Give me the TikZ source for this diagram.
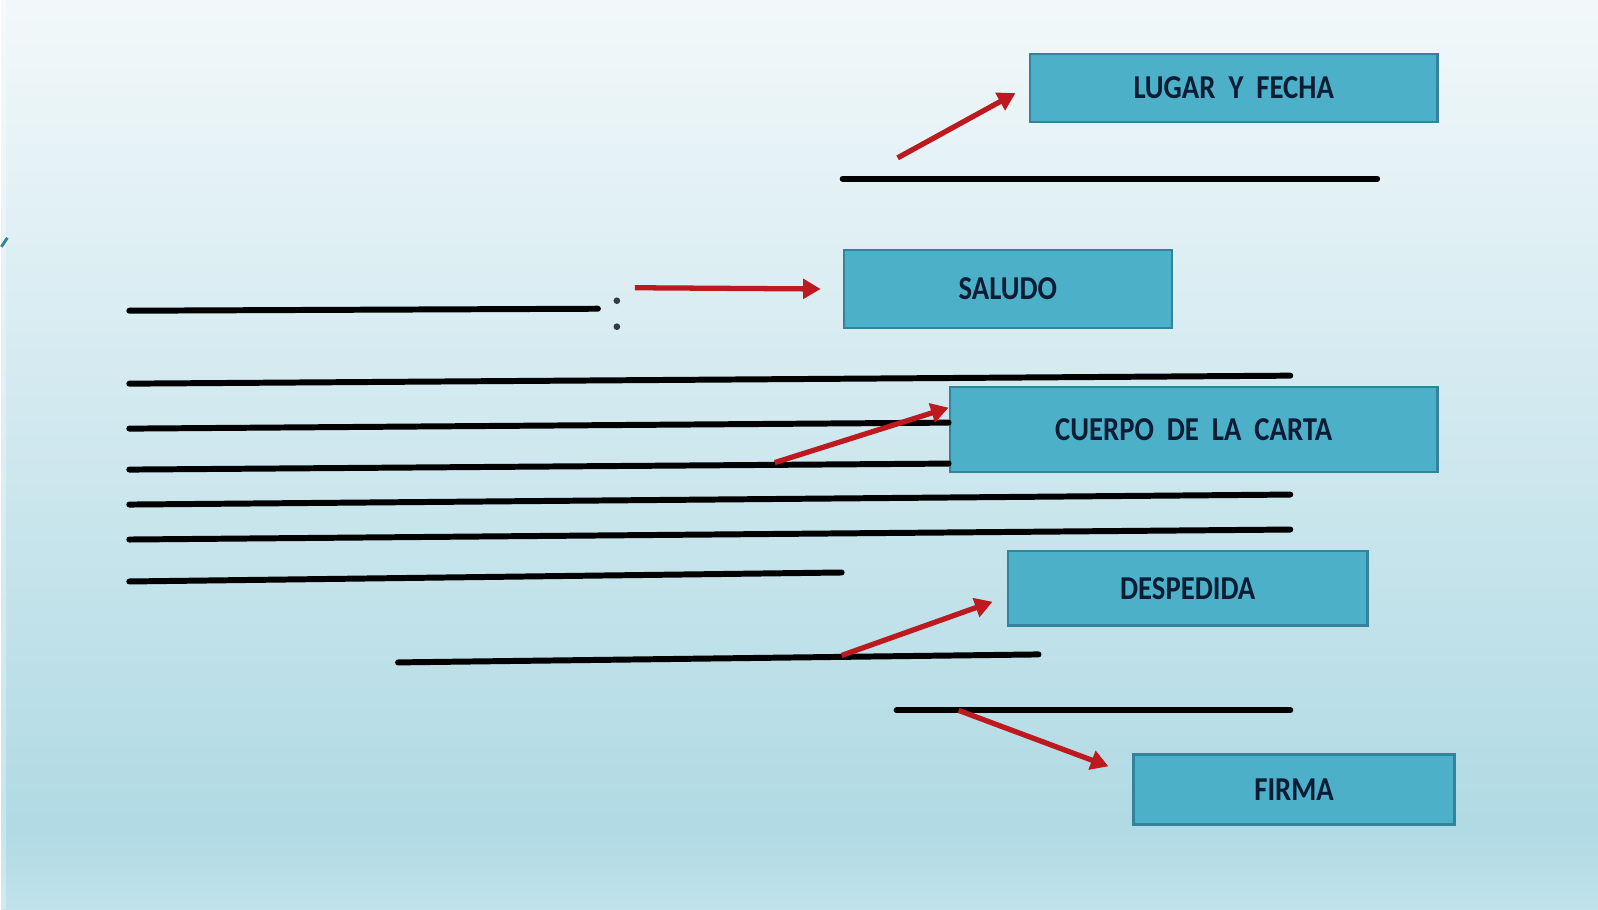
\documentclass[tikz,border=0pt]{standalone}
\usepackage{fontspec}
\usepackage{graphicx}
\setmainfont{Carlito}
\usetikzlibrary{arrows.meta}
\definecolor{boxfill}{RGB}{75,176,200}
\definecolor{boxline}{RGB}{52,130,155}
\definecolor{boxtext}{RGB}{12,28,52}
\definecolor{arrowred}{RGB}{190,25,30}
\newcommand\squeezed[1]{\scalebox{0.86}[1]{#1}}
\begin{document}
\begin{tikzpicture}[x=0.01cm,y=-0.01cm,
    part/.style={draw=boxline,line width=0.7pt,fill=boxfill,text=boxtext,
      font=\fontsize{9.5}{11}\selectfont\bfseries,anchor=north west,inner sep=0pt},
    rule/.style={line width=1.7pt,line cap=round,black},
    pointer/.style={arrowred,line width=1.5pt,-{Triangle[length=5pt,width=5.5pt]}}]
  % background
  \shade[top color={rgb,255:red,242;green,248;blue,250},bottom color={rgb,255:red,176;green,218;blue,228}] (0,0) rectangle (1598,832);
  \shade[top color={rgb,255:red,176;green,218;blue,228},bottom color={rgb,255:red,192;green,226;blue,234}] (0,832) rectangle (1598,910);
  \fill[white,opacity=0.3] (0,0) rectangle (5,910);
  \draw[boxline,line width=0.8pt] (0,247) -- (6,238);
  % boxes
  \node[part,minimum width=4.08cm,minimum height=0.68cm] (fecha) at (1028,53) {\squeezed{LUGAR~~Y~~FECHA}};
  \node[part,minimum width=3.28cm,minimum height=0.78cm] (saludo) at (842,249) {\squeezed{SALUDO}};
  \node[part,minimum width=4.88cm,minimum height=0.85cm] (cuerpo) at (948,386) {\squeezed{CUERPO~~DE~~LA~~CARTA}};
  \node[part,minimum width=3.60cm,minimum height=0.75cm] (despedida) at (1006,550) {\squeezed{DESPEDIDA}};
  \node[part,minimum width=3.21cm,minimum height=0.70cm] (firma) at (1132,754) {\squeezed{FIRMA}};
  % lines of the letter
  \draw[rule] (842,179) -- (1377,179);
  \draw[rule] (128,311) -- (597,309);
  \fill[boxtext!70!gray] (616,301) circle (0.95pt) (616,327) circle (0.95pt);
  \foreach \ya/\xb/\yb in {384/1290/376, 429/948/423, 470/948/464, 505/1290/495, 540/1290/530, 582/841/573}
    \draw[rule] (128,\ya) -- (\xb,\yb);
  \draw[rule] (397,663) -- (1038,655);
  \draw[rule] (896,711) -- (1290,711);
  % arrows
  \coordinate (a1) at (897,158);
  \coordinate (a2) at (634,288);
  \coordinate (a3) at (774,463);
  \coordinate (a4) at (841,656);
  \coordinate (a5) at (958,711);
  \draw[pointer] (a1) -- ([xshift=-0.13cm,yshift=-0.05cm]fecha.west);
  \draw[pointer] (a2) -- ([xshift=-0.22cm]saludo.west);
  \draw[pointer] (a3) -- ([yshift=-0.22cm]cuerpo.north west);
  \draw[pointer] (a4) -- ([xshift=-0.14cm,yshift=-0.135cm]despedida.west);
  \draw[pointer] (a5) -- ([xshift=-0.24cm,yshift=-0.13cm]firma.north west);
\end{tikzpicture}
\end{document}
